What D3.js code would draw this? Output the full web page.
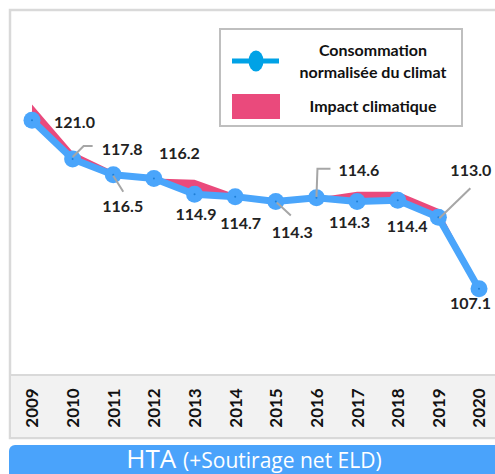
<!DOCTYPE html>
<html>
<head>
<meta charset="utf-8">
<script src="https://cdn.jsdelivr.net/npm/d3@7"></script>
<style>
  body { margin: 0; background: #fff; }
  text { font-family: Lato, "Open Sans", sans-serif; }
</style>
</head>
<body>
<div id="chart"></div>
<script>
const width = 495,
    height = 474;

// values
const years = ["2009", "2010", "2011", "2012", "2013", "2014", "2015", "2016", "2017", "2018", "2019", "2020"];
const normalise = [121.0, 117.8, 116.5, 116.2, 114.9, 114.7, 114.3, 114.6, 114.3, 114.4, 113.0, 107.1];
const brute = [122.3, 118.4, 116.8, 116.2, 116.1, 114.9, 114.0, 114.6, 115.1, 115.1, 113.7, 107.3];

// label offsets (dx, dy from the point) and leader lines
const labelPos = [[22, 2], [29, -10], [-11, 32], [5, -25], [-19, 20], [-15, 27], [-4, 31], [22, -27], [-28, 21], [-11, 26], [12, -47], [-29, 15]];
const leaders = {
  1: [[0, -2], [11, -13], [20, -13]],
  2: [[0, 1], [10, 17]],
  6: [[1, 1], [15, 14]],
  7: [[0, -1], [1, -29], [14, -29]],
  10: [[1, 1], [32, -29]]
};

const data = years.map((y, i) => ({ year: y, norm: normalise[i], raw: brute[i] }));

const svg = d3.select("#chart")
    .append("svg")
    .attr("width", width)
    .attr("height", height);

// outer panel
svg.append("rect")
    .attr("x", 10).attr("y", 10)
    .attr("width", 490).attr("height", 428)
    .attr("fill", "#fff")
    .attr("stroke", "#d9d9d9")
    .attr("stroke-width", 2.5);

// axis band
svg.append("rect")
    .attr("x", 11).attr("y", 375)
    .attr("width", 490).attr("height", 62)
    .attr("fill", "#f2f2f2");
svg.append("line")
    .attr("x1", 11).attr("x2", 495)
    .attr("y1", 375).attr("y2", 375)
    .attr("stroke", "#d9d9d9")
    .attr("stroke-width", 2);

let x = d3.scalePoint()
    .domain(years)
    .range([32, 479]);

let y = d3.scaleLinear()
    .domain([100, 130])
    .range([375, 11]);

// year labels
svg.append("g")
  .attr("transform", "translate(0,408)")
  .call(d3.axisBottom(x).tickSize(0))
  .call(g => g.select(".domain").remove())
  .selectAll("text")
    .attr("transform", "rotate(-90)")
    .attr("x", 0)
    .attr("y", 0)
    .attr("dy", "0.35em")
    .attr("text-anchor", "middle")
    .style("font-family", "Lato, sans-serif")
    .style("font-size", "17px")
    .style("font-weight", "bold")
    .attr("fill", "#111");

// impact climatique (between raw and normalised)
let area = d3.area()
    .x(d => x(d.year))
    .y0(d => y(d.norm))
    .y1(d => y(d.raw));

svg.append("path")
    .datum(data)
    .attr("d", area)
    .attr("fill", "#ea4a7c");

let line = d3.line()
    .x(d => x(d.year))
    .y(d => y(d.norm));

svg.append("path")
    .datum(data)
    .attr("d", line)
    .attr("fill", "none")
    .attr("stroke", "#4aa5fb")
    .attr("stroke-width", 7)
    .attr("stroke-linejoin", "round");

svg.selectAll(".pt")
  .data(data)
  .join("circle")
    .attr("class", "pt")
    .attr("cx", d => x(d.year))
    .attr("cy", d => y(d.norm))
    .attr("r", 8.5)
    .attr("fill", "#4aa5fb");

svg.selectAll(".dot")
  .data(data)
  .join("circle")
    .attr("class", "dot")
    .attr("cx", d => x(d.year))
    .attr("cy", d => y(d.norm))
    .attr("r", 1)
    .attr("fill", "#1f7fd6");

// leader lines
Object.keys(leaders).forEach(k => {
  let d = data[k];
  let px = x(d.year), py = y(d.norm);
  svg.append("path")
    .attr("d", d3.line()(leaders[k].map(p => [px + p[0], py + p[1]])))
    .attr("fill", "none")
    .attr("stroke", "#a6a6a6")
    .attr("stroke-width", 2);
});

// value labels
svg.selectAll(".lbl")
  .data(data)
  .join("text")
    .attr("class", "lbl")
    .attr("x", (d, i) => x(d.year) + labelPos[i][0])
    .attr("y", (d, i) => y(d.norm) + labelPos[i][1])
    .attr("dy", "0.35em")
    .style("font-size", "16px")
    .style("font-weight", "bold")
    .attr("fill", "#222")
    .text(d => d3.format(".1f")(d.norm));

// legend
const lg = svg.append("g");
lg.append("rect")
    .attr("x", 220).attr("y", 29)
    .attr("width", 242).attr("height", 97)
    .attr("fill", "#fff")
    .attr("stroke", "#bfbfbf")
    .attr("stroke-width", 2);
lg.append("line")
    .attr("x1", 232).attr("x2", 279)
    .attr("y1", 61).attr("y2", 61)
    .attr("stroke", "#00a2e6")
    .attr("stroke-width", 5);
lg.append("ellipse")
    .attr("cx", 256).attr("cy", 61)
    .attr("rx", 7.5).attr("ry", 10.5)
    .attr("fill", "#00a2e6");
lg.append("rect")
    .attr("x", 232).attr("y", 94)
    .attr("width", 48).attr("height", 25)
    .attr("fill", "#ea4a7c");
lg.selectAll(".lt")
  .data(["Consommation", "normalisée du climat", "Impact climatique"])
  .join("text")
    .attr("class", "lt")
    .attr("x", 373)
    .attr("y", (d, i) => [50, 72, 106][i])
    .attr("dy", "0.35em")
    .attr("text-anchor", "middle")
    .style("font-size", "16px")
    .style("font-weight", "bold")
    .attr("fill", "#111")
    .text(d => d);

// bottom banner
svg.append("rect")
    .attr("x", 9).attr("y", 445)
    .attr("width", 495).attr("height", 40)
    .attr("rx", 6)
    .attr("fill", "#4aa3fb");
const ban = svg.append("text")
    .attr("x", 254)
    .attr("y", 468)
    .attr("text-anchor", "middle")
    .attr("fill", "#fff")
    .style("font-family", "'Open Sans', sans-serif");
ban.append("tspan").style("font-size", "26px").text("HTA ");
ban.append("tspan").style("font-size", "21px").text("(+Soutirage net ELD)");
</script>
</body>
</html>
